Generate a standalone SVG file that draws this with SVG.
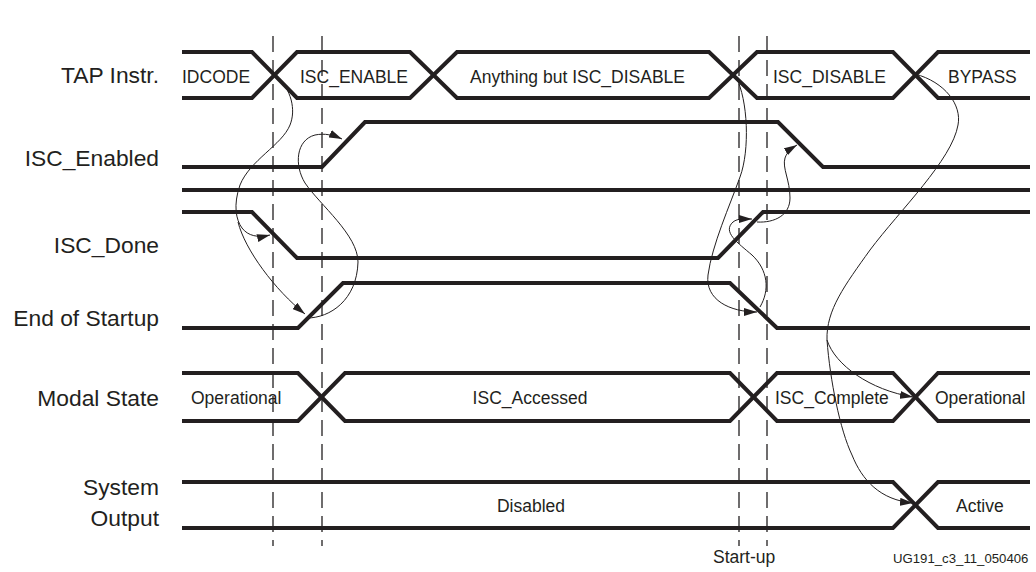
<svg xmlns="http://www.w3.org/2000/svg" width="1036" height="572" viewBox="0 0 1036 572">
<style>
.sig{fill:none;stroke:#231f20;stroke-width:4;stroke-linejoin:miter}
.dash{fill:none;stroke:#231f20;stroke-width:1.3;stroke-dasharray:16 8}
.cur{fill:none;stroke:#231f20;stroke-width:1}
.lbl{font-family:"Liberation Sans",Arial,sans-serif;font-size:22.8px;fill:#231f20;text-anchor:end}
.in{font-family:"Liberation Sans",Arial,sans-serif;font-size:17.5px;fill:#231f20}
.mid{text-anchor:middle}
.note{font-family:"Liberation Sans",Arial,sans-serif;font-size:13.2px;fill:#231f20}
</style>
<defs>
<marker id="ah" viewBox="0 0 13 8" refX="13" refY="4" markerWidth="13" markerHeight="8" markerUnits="userSpaceOnUse" orient="auto">
<path d="M0,0 L13,4 L0,8 Z" fill="#231f20"/>
</marker>
</defs>
<rect width="1036" height="572" fill="#ffffff"/>

<g id="labels">
<text class="lbl" x="159" y="83">TAP Instr.</text>
<text class="lbl" x="159" y="166">ISC_Enabled</text>
<text class="lbl" x="159" y="253">ISC_Done</text>
<text class="lbl" x="159" y="326">End of Startup</text>
<text class="lbl" x="159" y="406">Modal State</text>
<text class="lbl" x="159" y="495">System</text>
<text class="lbl" x="159" y="526">Output</text>
</g>

<g id="markers-dashed">
<line class="dash" x1="273" y1="36" x2="273" y2="546"/>
<line class="dash" x1="322" y1="36" x2="322" y2="546"/>
<line class="dash" x1="739" y1="36" x2="739" y2="546"/>
<line class="dash" x1="767" y1="36" x2="767" y2="546"/>
</g>

<g id="tap-instr">
<path class="sig" d="M182 52 H252 L297 98 H410 L457 52 H709 L757 98 H893 L938 52 H1030"/>
<path class="sig" d="M182 98 H252 L297 52 H410 L457 98 H709 L757 52 H893 L938 98 H1030"/>
<text class="in" x="182" y="83">IDCODE</text>
<text class="in" x="300" y="83">ISC_ENABLE</text>
<text class="in" x="470" y="83">Anything but ISC_DISABLE</text>
<text class="in" x="773" y="83">ISC_DISABLE</text>
<text class="in" x="948" y="83">BYPASS</text>
</g>

<g id="isc-enabled">
<path class="sig" d="M182 167 H322 L365 122 H778 L823 167 H1030"/>
</g>

<g id="separator">
<path class="sig" d="M182 190 H1030"/>
</g>

<g id="isc-done">
<path class="sig" d="M182 212 H252 L297 258 H718 L763 212 H1030"/>
</g>

<g id="end-of-startup">
<path class="sig" d="M182 328 H298 L343 283 H730 L777 328 H1030"/>
</g>

<g id="modal-state">
<path class="sig" d="M182 373 H298 L345 421 H730 L777 373 H893 L938 421 H1030"/>
<path class="sig" d="M182 421 H298 L345 373 H730 L777 421 H893 L938 373 H1030"/>
<text class="in" x="191" y="404">Operational</text>
<text class="in mid" x="530" y="404">ISC_Accessed</text>
<text class="in" x="775" y="404">ISC_Complete</text>
<text class="in" x="935" y="404">Operational</text>
</g>

<g id="system-output">
<path class="sig" d="M182 482 H893 L938 528 H1030"/>
<path class="sig" d="M182 528 H893 L938 482 H1030"/>
<text class="in mid" x="531" y="512">Disabled</text>
<text class="in" x="956" y="512">Active</text>
</g>

<g id="connectors">
<path class="cur" marker-end="url(#ah)" d="M275 74 C292 90 296 110 290 125 C282 145 250 160 240 185 C233 205 236 220 242 228 C248 236 258 238 270 235"/>
<path class="cur" marker-end="url(#ah)" d="M238 222 C245 250 275 290 305 314"/>
<path class="cur" marker-end="url(#ah)" d="M307 318 C330 318 357 300 358 262 C358 235 320 205 305 183 C294 165 296 140 315 135 C325 133 333 135 342 139"/>
<path class="cur" marker-end="url(#ah)" d="M736 77 C748 100 750 150 740 177 C730 205 712 245 708 275 C705 300 730 312 757 312"/>
<path class="cur" marker-end="url(#ah)" d="M760 307 C770 290 768 270 752 255 C738 243 722 232 733 222 C738 218 745 219 752 219"/>
<path class="cur" marker-end="url(#ah)" d="M757 222 C775 223 790 215 790 198 C790 180 782 168 785 158 C787 152 792 148 797 145"/>
<path class="cur" d="M915 74 C945 82 962 105 958 125 C952 160 900 210 870 250 C845 285 826 310 827 340"/>
<path class="cur" marker-end="url(#ah)" d="M827 340 C835 365 870 390 913 397"/>
<path class="cur" marker-end="url(#ah)" d="M827 340 C830 380 840 430 852 455 C862 480 880 500 913 503"/>
</g>

<g id="footer">
<text class="in" x="713" y="563">Start-up</text>
<text class="note" x="893" y="563">UG191_c3_11_050406</text>
</g>
</svg>
